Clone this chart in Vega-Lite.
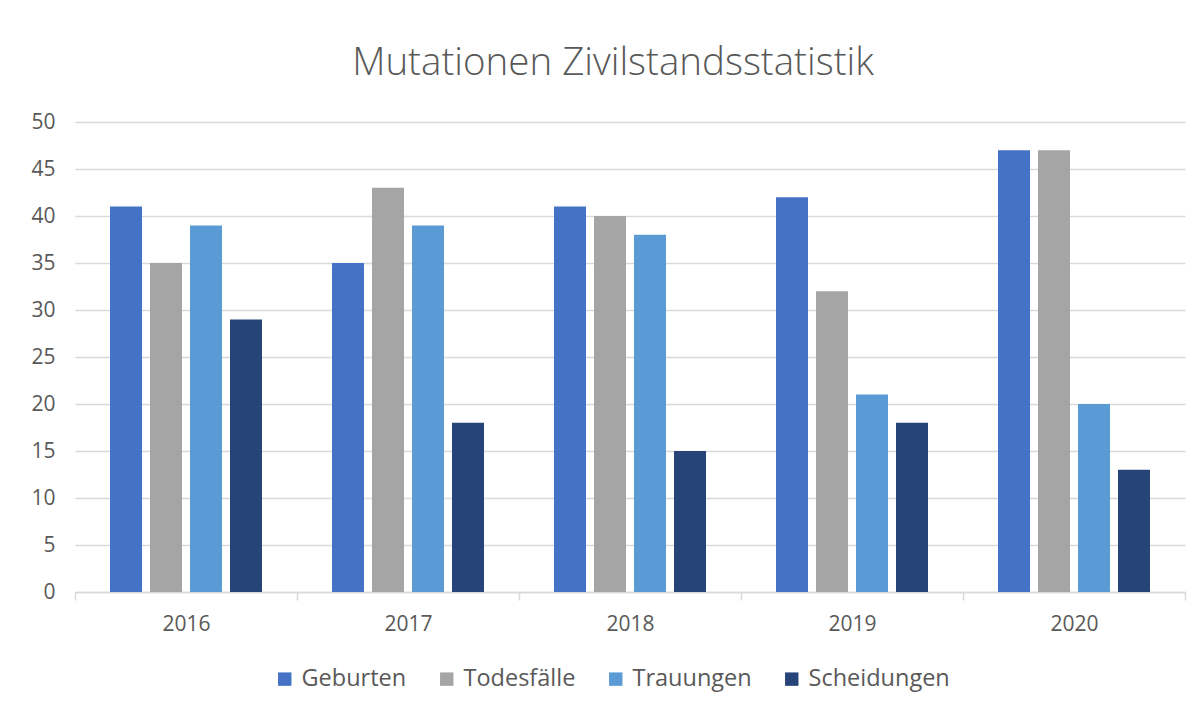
{
  "$schema": "https://vega.github.io/schema/vega-lite/v6.json",
  "autosize": {"type": "none"},
  "width": 1110,
  "height": 470,
  "padding": {"left": 75, "top": 122, "right": 18, "bottom": 119},
  "background": "#ffffff",
  "title": {
    "text": "Mutationen Zivilstandsstatistik",
    "font": "Open Sans",
    "fontSize": 38.5,
    "fontWeight": 300,
    "color": "#595959",
    "anchor": "middle",
    "baseline": "alphabetic",
    "offset": 45,
    "dy": 47,
    "dx": -17
  },
  "data": {
    "values": [
      {"Jahr": "2016", "Art": "Geburten", "Anzahl": 41},
      {"Jahr": "2016", "Art": "Todesfälle", "Anzahl": 35},
      {"Jahr": "2016", "Art": "Trauungen", "Anzahl": 39},
      {"Jahr": "2016", "Art": "Scheidungen", "Anzahl": 29},
      {"Jahr": "2017", "Art": "Geburten", "Anzahl": 35},
      {"Jahr": "2017", "Art": "Todesfälle", "Anzahl": 43},
      {"Jahr": "2017", "Art": "Trauungen", "Anzahl": 39},
      {"Jahr": "2017", "Art": "Scheidungen", "Anzahl": 18},
      {"Jahr": "2018", "Art": "Geburten", "Anzahl": 41},
      {"Jahr": "2018", "Art": "Todesfälle", "Anzahl": 40},
      {"Jahr": "2018", "Art": "Trauungen", "Anzahl": 38},
      {"Jahr": "2018", "Art": "Scheidungen", "Anzahl": 15},
      {"Jahr": "2019", "Art": "Geburten", "Anzahl": 42},
      {"Jahr": "2019", "Art": "Todesfälle", "Anzahl": 32},
      {"Jahr": "2019", "Art": "Trauungen", "Anzahl": 21},
      {"Jahr": "2019", "Art": "Scheidungen", "Anzahl": 18},
      {"Jahr": "2020", "Art": "Geburten", "Anzahl": 47},
      {"Jahr": "2020", "Art": "Todesfälle", "Anzahl": 47},
      {"Jahr": "2020", "Art": "Trauungen", "Anzahl": 20},
      {"Jahr": "2020", "Art": "Scheidungen", "Anzahl": 13}
    ]
  },
  "mark": {"type": "bar"},
  "encoding": {
    "x": {
      "field": "Jahr",
      "type": "nominal",
      "scale": {"paddingInner": 0, "paddingOuter": 0},
      "axis": {
        "title": null,
        "labelAngle": 0,
        "labelFont": "Open Sans",
        "labelFontSize": 21,
        "labelColor": "#595959",
        "labelPadding": 13,
        "domainColor": "#d9d9d9",
        "domainWidth": 1.5,
        "tickColor": "#d9d9d9",
        "tickWidth": 1.5,
        "tickSize": 8,
        "tickBand": "extent",
        "grid": false
      }
    },
    "xOffset": {
      "field": "Art",
      "type": "nominal",
      "sort": ["Geburten", "Todesfälle", "Trauungen", "Scheidungen"],
      "scale": {"paddingInner": 0.2, "paddingOuter": 0.875}
    },
    "y": {
      "field": "Anzahl",
      "type": "quantitative",
      "scale": {"domain": [0, 50], "nice": false},
      "axis": {
        "title": null,
        "values": [0, 5, 10, 15, 20, 25, 30, 35, 40, 45, 50],
        "labelFont": "Open Sans",
        "labelFontSize": 21,
        "labelColor": "#595959",
        "labelPadding": 20,
        "ticks": false,
        "domain": false,
        "grid": true,
        "gridColor": "#d9d9d9",
        "gridWidth": 1.5
      }
    },
    "color": {
      "field": "Art",
      "type": "nominal",
      "sort": ["Geburten", "Todesfälle", "Trauungen", "Scheidungen"],
      "scale": {
        "domain": ["Geburten", "Todesfälle", "Trauungen", "Scheidungen"],
        "range": ["#4472C4", "#A5A5A5", "#5B9BD5", "#264478"]
      },
      "legend": {
        "title": null,
        "orient": "none",
        "legendX": 198,
        "legendY": 545,
        "direction": "horizontal",
        "symbolType": "square",
        "symbolSize": 180,
        "symbolStrokeWidth": 0,
        "labelFont": "Open Sans",
        "labelFontSize": 23.5,
        "labelColor": "#595959",
        "labelOffset": 5,
        "columnPadding": 28
      }
    }
  },
  "config": {
    "view": {"stroke": null}
  }
}
